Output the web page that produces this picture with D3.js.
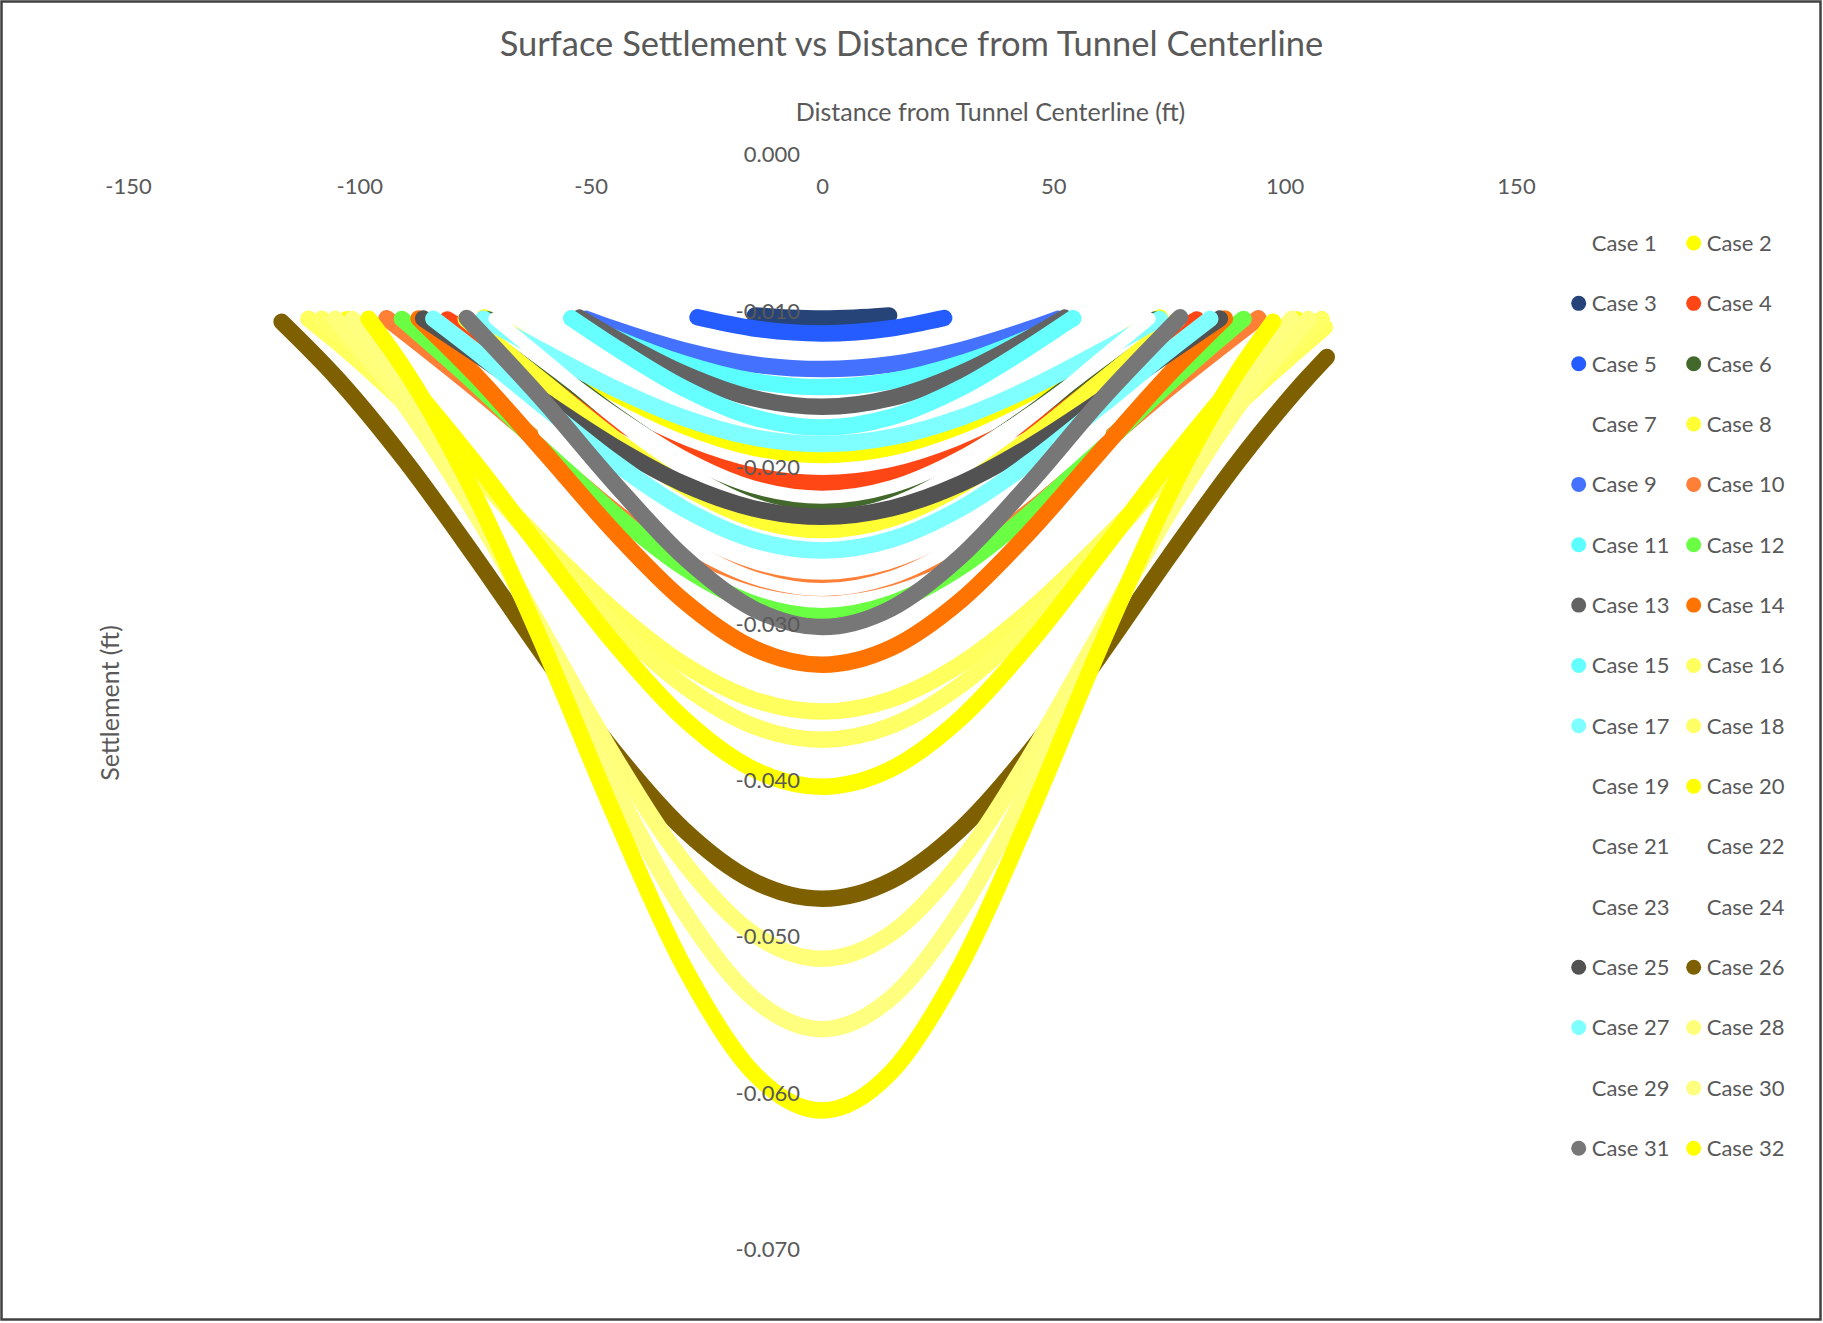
<!DOCTYPE html>
<html>
<head>
<meta charset="utf-8">
<script src="https://cdn.jsdelivr.net/npm/d3@7"></script>
<style>
  body { margin: 0; background: #ffffff; }
  svg text { font-family: Lato, "Noto Sans", sans-serif; fill: #595959; }
</style>
</head>
<body>
<svg id="chart" width="1823" height="1323"></svg>
<script>
// Axis ticks.
const xTicks = [-150, -100, -50, 0, 50, 100, 150];
const yTicks = [0, -0.01, -0.02, -0.03, -0.04, -0.05, -0.06, -0.07];

// Legend names and marker colours (white cases are invisible on the page).
const caseLabels = ["Case 1", "Case 2", "Case 3", "Case 4", "Case 5", "Case 6", "Case 7", "Case 8",
  "Case 9", "Case 10", "Case 11", "Case 12", "Case 13", "Case 14", "Case 15", "Case 16",
  "Case 17", "Case 18", "Case 19", "Case 20", "Case 21", "Case 22", "Case 23", "Case 24",
  "Case 25", "Case 26", "Case 27", "Case 28", "Case 29", "Case 30", "Case 31", "Case 32"];
const caseColors = ["#FFFFFF", "#FFFF00", "#264478", "#FF4614", "#245CFF", "#43682B", "#FFFFFF", "#FFFF33",
  "#4472FF", "#FF7F37", "#5CFFFF", "#6BFF44", "#636363", "#FF7300", "#66FFFF", "#FFFF5E",
  "#7FFFFF", "#FFFF66", "#FFFFFF", "#FFFF00", "#FFFFFF", "#FFFFFF", "#FFFFFF", "#FFFFFF",
  "#525252", "#7F6000", "#7FFFFF", "#FFFF7A", "#FFFFFF", "#FFFF7F", "#777777", "#FFFF00"];

// Settlement troughs [distance ft, settlement ft].
const case01 = [];
const case02 = [[-73, -0.01041], [-60, -0.01270], [-45, -0.01522], [-30, -0.01732], [-15, -0.01871], [0, -0.0192],
  [15, -0.01871], [30, -0.01732], [45, -0.01522], [60, -0.01270], [73, -0.01041]];
const case03 = [[-14.5, -0.01028], [-7, -0.01042], [0, -0.01047], [7, -0.01042], [14.5, -0.01028]];
const case04 = [[-81, -0.01054], [-75, -0.01163], [-60, -0.01439], [-45, -0.01698], [-30, -0.01911], [-15, -0.02051], [0, -0.0210],
  [15, -0.02051], [30, -0.01911], [45, -0.01698], [60, -0.01439], [75, -0.01163], [81, -0.01054]];
const case05 = [[-26.9, -0.01040], [-15, -0.01110], [0, -0.01143], [15, -0.01110], [26.4, -0.01044]];
const case06 = [[-72, -0.01054], [-60, -0.01324], [-45, -0.01660], [-30, -0.01951], [-15, -0.02149], [0, -0.0222],
  [15, -0.02149], [30, -0.01951], [45, -0.01660], [60, -0.01324], [72, -0.01054]];
const case07 = [[-72, -0.01066], [-60, -0.01328], [-45, -0.01653], [-30, -0.01933], [-15, -0.02123], [0, -0.0219],
  [15, -0.02123], [30, -0.01933], [45, -0.01653], [60, -0.01328], [72, -0.01066]];
const case08 = [[-77, -0.01053], [-60, -0.01456], [-45, -0.01812], [-30, -0.02118], [-15, -0.02326], [0, -0.0240],
  [15, -0.02326], [30, -0.02118], [45, -0.01812], [60, -0.01456], [77, -0.01053]];
const case09 = [[-51, -0.01050], [-45, -0.01114], [-30, -0.01250], [-15, -0.01340], [0, -0.01371],
  [15, -0.01340], [30, -0.01250], [45, -0.01114], [51, -0.01050]];
const case10 = [[-94.1, -0.01046], [-75, -0.01494], [-60, -0.01866], [-45, -0.02218], [-30, -0.02510], [-15, -0.02702], [0, -0.0277],
  [15, -0.02702], [30, -0.02510], [45, -0.02218], [60, -0.01866], [75, -0.01494], [94.3, -0.01046]];
const case11 = [[-54.1, -0.01047], [-45, -0.01168], [-30, -0.01335], [-15, -0.01447], [0, -0.01486],
  [15, -0.01447], [30, -0.01335], [45, -0.01168], [54.3, -0.01047]];
const case12 = [[-90.8, -0.01050], [-75, -0.01462], [-60, -0.01882], [-45, -0.02291], [-30, -0.02637], [-15, -0.02868], [0, -0.0295],
  [15, -0.02868], [30, -0.02637], [45, -0.02291], [60, -0.01882], [75, -0.01462], [91.1, -0.01050]];
const case13 = [[-52.5, -0.01042], [-45, -0.01170], [-30, -0.01398], [-15, -0.01556], [0, -0.01612],
  [15, -0.01556], [30, -0.01398], [45, -0.01170], [52.5, -0.01042]];
const case14 = [[-87.2, -0.01047], [-75, -0.01405], [-60, -0.01902], [-45, -0.02408], [-30, -0.02849], [-15, -0.03152], [0, -0.0326],
  [15, -0.03152], [30, -0.02849], [45, -0.02408], [60, -0.01902], [75, -0.01405], [87.1, -0.01047]];
const case15 = [[-54.2, -0.01046], [-45, -0.01226], [-30, -0.01491], [-15, -0.01677], [0, -0.01744],
  [15, -0.01677], [30, -0.01491], [45, -0.01226], [54.2, -0.01046]];
const case16 = [[-111, -0.01049], [-105, -0.01193], [-90, -0.01594], [-75, -0.02038], [-60, -0.02491], [-45, -0.02912], [-30, -0.03256], [-15, -0.03481], [0, -0.0356],
  [15, -0.03481], [30, -0.03256], [45, -0.02912], [60, -0.02491], [75, -0.02038], [90, -0.01594], [108.7, -0.01103]];
const case17 = [[-73.2, -0.01049], [-60, -0.01262], [-45, -0.01492], [-30, -0.01681], [-15, -0.01806], [0, -0.0185],
  [15, -0.01806], [30, -0.01681], [45, -0.01492], [60, -0.01262], [73, -0.01050]];
const case18 = [[-108.1, -0.01049], [-90, -0.01550], [-75, -0.02029], [-60, -0.02528], [-45, -0.03001], [-30, -0.03391], [-15, -0.03650], [0, -0.0374],
  [15, -0.03650], [30, -0.03391], [45, -0.03001], [60, -0.02528], [75, -0.02029], [90, -0.01550], [108, -0.01051]];
const case19 = [];
const case20 = [[-102.7, -0.01052], [-90, -0.01437], [-75, -0.01971], [-60, -0.02552], [-45, -0.03120], [-30, -0.03602], [-15, -0.03926], [0, -0.0404],
  [15, -0.03926], [30, -0.03602], [45, -0.03120], [60, -0.02552], [75, -0.01971], [90, -0.01437], [102.6, -0.01054]];
const case21 = [[-60, -0.01766], [-45, -0.02154], [-30, -0.02482], [-15, -0.02702], [0, -0.0278],
  [15, -0.02702], [30, -0.02482], [45, -0.02154], [60, -0.01766]];
const case22 = [[-70.7, -0.01049], [-60, -0.01309], [-45, -0.01680], [-30, -0.02008], [-15, -0.02234], [0, -0.02315],
  [15, -0.02234], [30, -0.02008], [45, -0.01680], [60, -0.01309], [70.7, -0.01049]];
const case23 = [];
const case24 = [];
const case25 = [[-86.2, -0.01048], [-75, -0.01269], [-60, -0.01576], [-45, -0.01864], [-30, -0.02103], [-15, -0.02260], [0, -0.02315],
  [15, -0.02260], [30, -0.02103], [45, -0.01864], [60, -0.01576], [75, -0.01269], [86, -0.01048]];
const case26 = [[-116.8, -0.01069], [-105, -0.01424], [-90, -0.01960], [-75, -0.02570], [-60, -0.03207], [-45, -0.03811], [-30, -0.04310], [-15, -0.04640], [0, -0.04756],
  [15, -0.04640], [30, -0.04310], [45, -0.03811], [60, -0.03207], [75, -0.02570], [90, -0.01960], [105, -0.01424], [109.1, -0.01294]];
const case27 = [[-84, -0.01049], [-75, -0.01254], [-60, -0.01614], [-45, -0.01965], [-30, -0.02261], [-15, -0.02460], [0, -0.0253],
  [15, -0.02460], [30, -0.02261], [45, -0.01965], [60, -0.01614], [75, -0.01254], [83.9, -0.01050]];
const case28 = [[-105.2, -0.01049], [-90, -0.01606], [-75, -0.02291], [-60, -0.03065], [-45, -0.03843], [-30, -0.04517], [-15, -0.04977], [0, -0.0514],
  [15, -0.04977], [30, -0.04517], [45, -0.03843], [60, -0.03065], [75, -0.02291], [90, -0.01606], [105.1, -0.01051]];
const case29 = [];
const case30 = [[-101.5, -0.01050], [-90, -0.01501], [-75, -0.02243], [-60, -0.03116], [-45, -0.04024], [-30, -0.04830], [-15, -0.05389], [0, -0.0559],
  [15, -0.05389], [30, -0.04830], [45, -0.04024], [60, -0.03116], [75, -0.02243], [90, -0.01501], [101.5, -0.01050]];
const case31 = [[-76.8, -0.01044], [-60, -0.01580], [-45, -0.02097], [-30, -0.02568], [-15, -0.02900], [0, -0.0302],
  [15, -0.02900], [30, -0.02568], [45, -0.02097], [60, -0.01580], [77.4, -0.01040]];
const case32 = [[-98, -0.01049], [-90, -0.01383], [-75, -0.02177], [-60, -0.03156], [-45, -0.04213], [-30, -0.05180], [-15, -0.05863], [0, -0.0611],
  [15, -0.05863], [30, -0.05180], [45, -0.04213], [60, -0.03156], [75, -0.02177], [90, -0.01383], [97.5, -0.01068]];

const caseSeries = [case01, case02, case03, case04, case05, case06, case07, case08,
  case09, case10, case11, case12, case13, case14, case15, case16,
  case17, case18, case19, case20, case21, case22, case23, case24,
  case25, case26, case27, case28, case29, case30, case31, case32];

const svg = d3.select("#chart");

// Outer chart border.
svg.append("rect")
  .attr("x", 1.5).attr("y", 1.5)
  .attr("width", 1819).attr("height", 1318)
  .attr("fill", "#ffffff")
  .attr("stroke", "#404040")
  .attr("stroke-width", 2.5);

// Scales: y runs from 0 at the top down to -0.07.
const x = d3.scaleLinear().domain([-150, 150]).range([128, 1516]);
const y = d3.scaleLinear().domain([0, -0.07]).range([154.6, 1249.8]);

// Each case is a dense run of round markers, drawn here as a thick round-capped line.
// The white cases use slightly smaller markers, so they only nibble at the others.
const line = d3.line()
  .x(d => x(d[0]))
  .y(d => y(d[1]))
  .curve(d3.curveMonotoneX);

svg.append("g")
  .selectAll("path")
  .data(caseSeries.map((pts, i) => ({ pts, color: caseColors[i] })).filter(d => d.pts.length))
  .join("path")
  .attr("d", d => line(d.pts))
  .attr("fill", "none")
  .attr("stroke", d => d.color)
  .attr("stroke-width", d => d.color === "#FFFFFF" ? 13 : 16.5)
  .attr("stroke-linecap", "round")
  .attr("stroke-linejoin", "round");

// X axis sits on y = 0 with its labels below, no line or ticks.
const xAxis = svg.append("g")
  .attr("transform", `translate(0,${y(0)})`)
  .call(d3.axisBottom(x).tickValues(xTicks).tickSize(0).tickPadding(23.5)
    .tickFormat(d => String(d)));
xAxis.select(".domain").remove();
xAxis.selectAll("text").style("font-size", "22px").attr("fill", "#595959");

// Y axis crosses at x = 0, labels to its left.
const fmt = d3.format(".3f");
const yAxis = svg.append("g")
  .attr("transform", `translate(${x(0)},0)`)
  .call(d3.axisLeft(y).tickValues(yTicks).tickSize(0).tickPadding(22)
    .tickFormat(d => fmt(d).replace("\u2212", "-")));
yAxis.select(".domain").remove();
yAxis.selectAll("text").style("font-size", "22px").attr("fill", "#595959");

// Titles.
svg.append("text")
  .attr("x", 911.5).attr("y", 56)
  .attr("text-anchor", "middle")
  .style("font-size", "34.5px")
  .text("Surface Settlement vs Distance from Tunnel Centerline");

svg.append("text")
  .attr("x", 990.5).attr("y", 121)
  .attr("text-anchor", "middle")
  .style("font-size", "25px")
  .text("Distance from Tunnel Centerline (ft)");

svg.append("text")
  .attr("transform", "translate(119,703) rotate(-90)")
  .attr("text-anchor", "middle")
  .style("font-size", "25px")
  .text("Settlement (ft)");

// Legend: two columns, sixteen rows.
const legend = svg.append("g")
  .selectAll("g")
  .data(caseLabels)
  .join("g")
  .attr("transform", (d, i) => `translate(${i % 2 ? 1693.7 : 1578.7},${243 + Math.floor(i / 2) * 60.35})`);

legend.append("circle")
  .attr("r", 7.5)
  .attr("fill", (d, i) => caseColors[i]);

legend.append("text")
  .attr("x", 13)
  .attr("dy", "0.36em")
  .style("font-size", "22px")
  .text(d => d);
</script>
</body>
</html>
